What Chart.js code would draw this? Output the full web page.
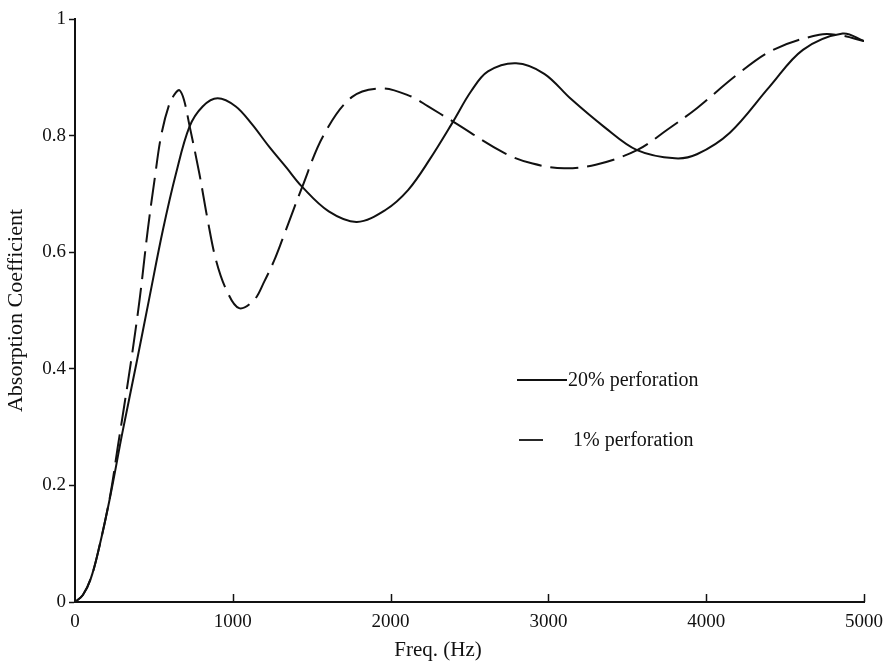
<!DOCTYPE html>
<html>
<head>
<meta charset="utf-8">
<script src="https://cdn.jsdelivr.net/npm/chart.js@4/dist/chart.umd.min.js"></script>
<style>
html,body{margin:0;padding:0;background:#fff;}
#wrap{width:892px;height:664px;position:relative;}
</style>
</head>
<body>
<div id="wrap"><canvas id="c" width="892" height="664"></canvas></div>
<script>
// ---- data ----
const xTicks = [0, 1000, 2000, 3000, 4000, 5000];
const yTicks = [0, 0.2, 0.4, 0.6, 0.8, 1];

const freq20 = [0, 50, 100, 150, 221, 300, 389, 470, 557, 640, 725, 809, 904, 1019, 1120, 1230, 1340, 1440, 1608, 1786, 1965, 2112, 2250, 2396, 2510, 2617, 2795, 2974, 3142, 3353, 3562, 3802, 3941, 4150, 4402, 4613, 4865, 5000];
const alpha20 = [0, 0.012, 0.04, 0.09, 0.178, 0.29, 0.409, 0.52, 0.638, 0.735, 0.815, 0.850, 0.864, 0.850, 0.820, 0.781, 0.745, 0.712, 0.670, 0.652, 0.672, 0.707, 0.760, 0.824, 0.876, 0.910, 0.924, 0.906, 0.863, 0.815, 0.775, 0.761, 0.768, 0.805, 0.884, 0.947, 0.975, 0.962];

const freq1 = [0, 50, 100, 150, 221, 271, 353, 410, 461, 504, 546, 599, 640, 662, 690, 725, 788, 841, 893, 960, 1040, 1135, 1200, 1261, 1313, 1440, 1576, 1754, 1944, 2131, 2238, 2396, 2722, 2900, 3100, 3300, 3562, 3753, 3941, 4193, 4424, 4717, 4850, 5000];
const alpha1 = [0, 0.012, 0.04, 0.09, 0.18, 0.266, 0.409, 0.52, 0.638, 0.724, 0.800, 0.855, 0.874, 0.878, 0.862, 0.818, 0.735, 0.655, 0.587, 0.535, 0.504, 0.518, 0.550, 0.585, 0.621, 0.712, 0.801, 0.866, 0.881, 0.867, 0.850, 0.824, 0.770, 0.752, 0.744, 0.750, 0.775, 0.810, 0.847, 0.904, 0.947, 0.973, 0.972, 0.962];

const seriesNames = ['20% perforation', '1% perforation'];
const xTitle = 'Freq. (Hz)';
const yTitle = 'Absorption Coefficient';

const SERIF = '"Liberation Serif", "DejaVu Serif", serif';
const INK = '#111';

function pts(xs, ys){ return xs.map((x,i)=>({x:x, y:ys[i]})); }

const overlay = {
  id: 'overlay',
  afterDraw(chart){
    const ctx = chart.ctx;
    const xs = chart.scales.x, ys = chart.scales.y;
    ctx.save();
    // inward x ticks
    ctx.strokeStyle = INK; ctx.lineWidth = 1.5;
    xTicks.forEach(v=>{
      if (v===0) return;
      const px = Math.round(xs.getPixelForValue(v))+0.5;
      ctx.beginPath(); ctx.moveTo(px, ys.bottom); ctx.lineTo(px, ys.bottom-8); ctx.stroke();
    });
    // x title
    ctx.fillStyle = INK;
    ctx.font = '21px ' + SERIF;
    ctx.textAlign = 'center'; ctx.textBaseline = 'alphabetic';
    ctx.fillText(xTitle, 438, 656);
    // legend
    ctx.font = '20px ' + SERIF;
    ctx.lineWidth = 1.8;
    ctx.beginPath(); ctx.moveTo(517, 380); ctx.lineTo(567, 380); ctx.stroke();
    ctx.beginPath(); ctx.moveTo(519, 440); ctx.lineTo(543, 440); ctx.stroke();
    ctx.textAlign = 'left'; ctx.textBaseline = 'middle';
    ctx.fillText(seriesNames[0], 568, 381);
    ctx.fillText(seriesNames[1], 573, 441);
    ctx.restore();
  }
};

new Chart(document.getElementById('c'), {
  type: 'line',
  data: {
    datasets: [
      { label: seriesNames[0], data: pts(freq20, alpha20), borderColor: INK, borderWidth: 2,
        pointRadius: 0, tension: 0.35, fill: false },
      { label: seriesNames[1], data: pts(freq1, alpha1), borderColor: INK, borderWidth: 2,
        borderDash: [28, 9], pointRadius: 0, tension: 0.35, fill: false }
    ]
  },
  options: {
    responsive: false,
    animation: false,
    devicePixelRatio: 1,
    layout: { padding: { left: 0, right: 24, top: 19, bottom: 0 } },
    plugins: { legend: { display: false }, tooltip: { enabled: false } },
    scales: {
      x: {
        type: 'linear', min: 0, max: 5000,
        afterBuildTicks: s => { s.ticks = xTicks.map(v=>({value:v})); },
        afterFit: s => { s.height = 62; },
        grid: { display: true, drawOnChartArea: false, drawTicks: false },
        border: { display: true, color: INK, width: 2 },
        ticks: { color: INK, font: { family: SERIF, size: 19 }, padding: 9, maxRotation: 0,
                 callback: v => String(v) }
      },
      y: {
        type: 'linear', min: 0, max: 1,
        afterBuildTicks: s => { s.ticks = yTicks.map(v=>({value:v})); },
        afterFit: s => { s.width = 75; },
        grid: { display: true, drawOnChartArea: false, drawTicks: true, tickLength: 6, color: INK, tickWidth: 1.5 },
        border: { display: true, color: INK, width: 2 },
        title: { display: true, text: yTitle, color: INK, font: { family: SERIF, size: 22 }, padding: { top: 3, bottom: 0 } },
        ticks: { color: INK, font: { family: SERIF, size: 19 }, padding: 3,
                 callback: v => String(v) }
      }
    }
  },
  plugins: [overlay]
});
</script>
</body>
</html>
